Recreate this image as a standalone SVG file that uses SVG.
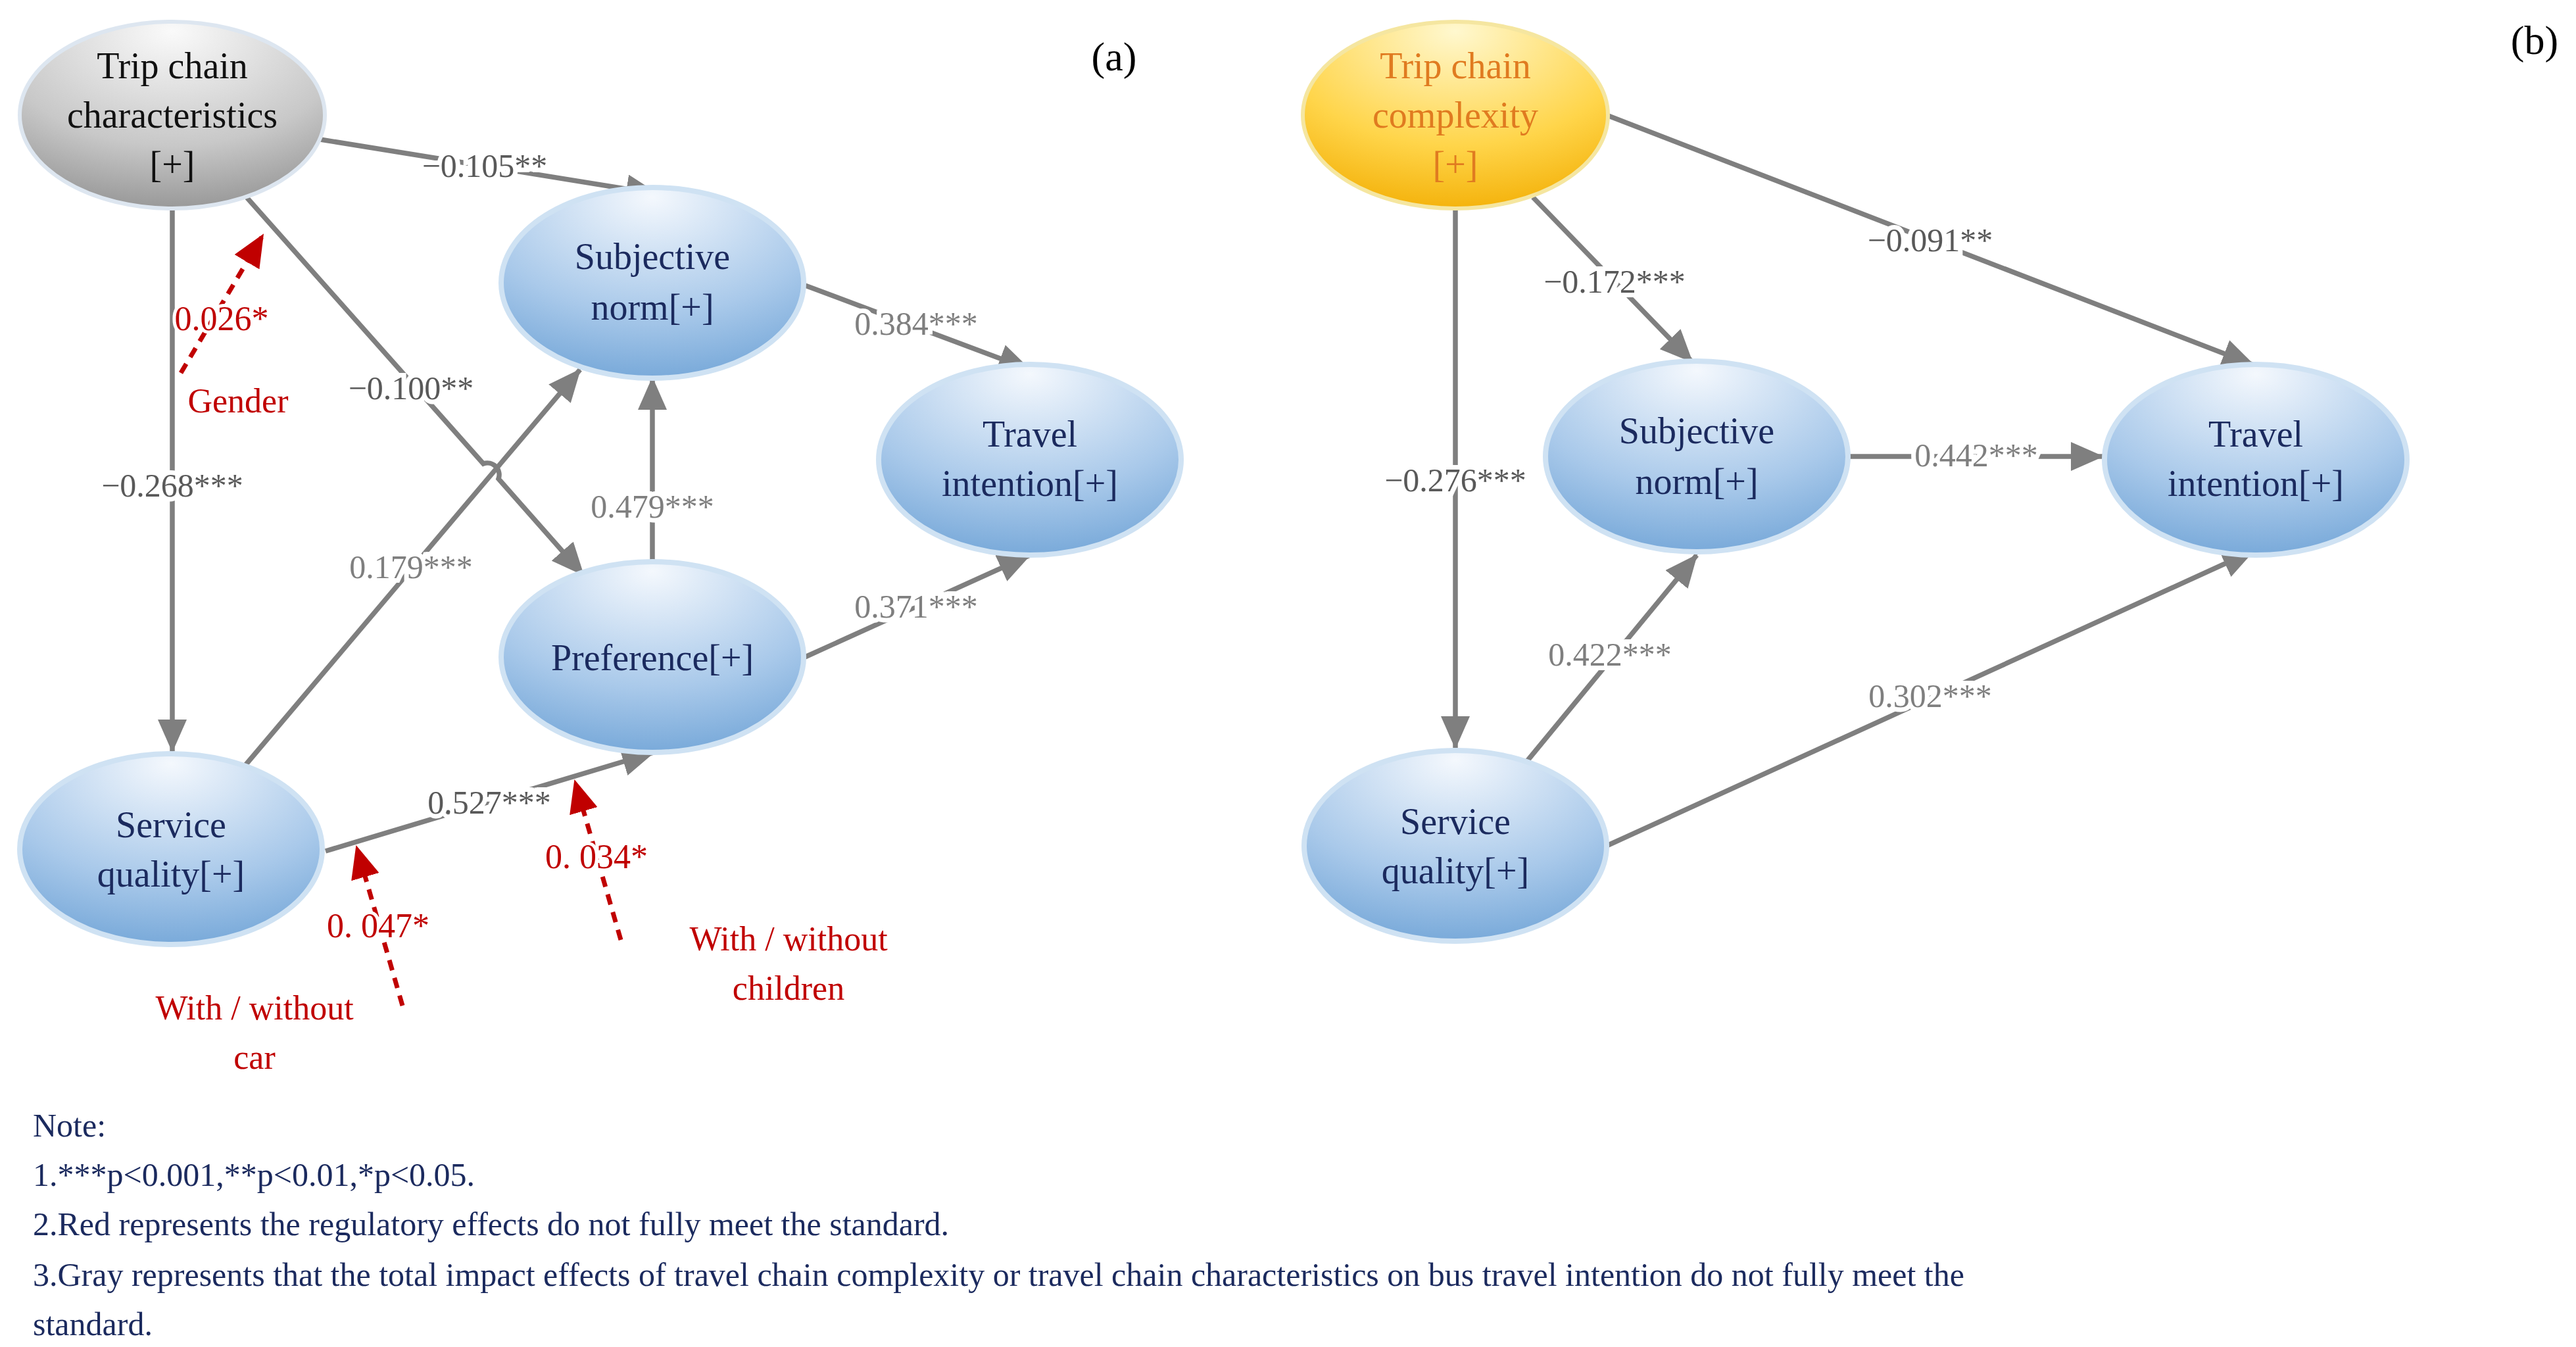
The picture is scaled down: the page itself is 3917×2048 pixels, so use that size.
<svg xmlns="http://www.w3.org/2000/svg" width="3917" height="2048" viewBox="0 0 3917 2048">
<style>
text{font-family:"Liberation Serif","Times New Roman",serif;}
.nt{font-size:56px;fill:#1b2a5e;text-anchor:middle;dominant-baseline:central;}
.lbA{font-size:50px;fill:#595959;text-anchor:middle;dominant-baseline:central;stroke:#fff;stroke-width:14px;paint-order:stroke;}
.lbB{font-size:50px;fill:#7f7f7f;text-anchor:middle;dominant-baseline:central;stroke:#fff;stroke-width:14px;paint-order:stroke;}
.lbR{font-size:52px;fill:#c00000;text-anchor:middle;dominant-baseline:central;stroke:#fff;stroke-width:10px;paint-order:stroke;}
.ln{stroke:#7f7f7f;stroke-width:7.5;fill:none;marker-end:url(#ag);}
.rd{stroke:#c00000;stroke-width:7;fill:none;stroke-dasharray:16 12;marker-end:url(#ar);}
.note{font-size:50px;fill:#1b2a5e;}
.bn{stroke:#cfe2f3;stroke-width:8;fill:url(#gb);}
</style>
<defs>
<radialGradient id="gb" cx="0.5" cy="0.12" r="0.95" fx="0.5" fy="0.05">
<stop offset="0" stop-color="#f4f8fd"/><stop offset="0.6" stop-color="#a9c9ea"/><stop offset="1" stop-color="#6fa3d6"/></radialGradient>
<radialGradient id="gg" cx="0.5" cy="0.12" r="0.95" fx="0.5" fy="0.05">
<stop offset="0" stop-color="#fafafa"/><stop offset="0.6" stop-color="#c8c8c8"/><stop offset="1" stop-color="#8f8f8f"/></radialGradient>
<radialGradient id="gy" cx="0.5" cy="0.12" r="0.95" fx="0.5" fy="0.05">
<stop offset="0" stop-color="#fff8cf"/><stop offset="0.6" stop-color="#ffd54a"/><stop offset="1" stop-color="#f2ac00"/></radialGradient>
<marker id="ag" markerUnits="userSpaceOnUse" markerWidth="50" markerHeight="44" refX="48" refY="22" orient="auto"><path d="M0,0 L50,22 L0,44 Z" fill="#7f7f7f"/></marker>
<marker id="ar" markerUnits="userSpaceOnUse" markerWidth="50" markerHeight="44" refX="48" refY="22" orient="auto"><path d="M0,0 L50,22 L0,44 Z" fill="#c00000"/></marker>
</defs>
<g id="connectors">
<line class="ln" x1="487" y1="212" x2="1000" y2="295"/>
<path class="ln" d="M375,300 L735,705 A18,18 0 0 1 758,728 L887,874"/>
<line class="ln" x1="262" y1="305" x2="262" y2="1142"/>
<line class="ln" x1="370" y1="1167" x2="882" y2="562"/>
<line class="ln" x1="992" y1="862" x2="992" y2="575"/>
<line class="ln" x1="1219" y1="432" x2="1566" y2="562"/>
<line class="ln" x1="1224" y1="999" x2="1566" y2="844"/>
<line class="ln" x1="495" y1="1294" x2="994" y2="1144"/>
<line class="rd" x1="275" y1="567" x2="400" y2="357"/>
<line class="rd" x1="612" y1="1529" x2="542" y2="1287"/>
<line class="rd" x1="944" y1="1429" x2="874" y2="1187"/>
<line class="ln" x1="2443" y1="175" x2="3427" y2="555"/>
<line class="ln" x1="2331" y1="300" x2="2573" y2="550"/>
<line class="ln" x1="2213" y1="317" x2="2213" y2="1137"/>
<line class="ln" x1="2813" y1="694" x2="3197" y2="694"/>
<line class="ln" x1="2318" y1="1162" x2="2580" y2="844"/>
<line class="ln" x1="2443" y1="1286" x2="3427" y2="837"/>
</g>
<g id="labels">
<text class="lbA" x="737" y="252">−0.105**</text>
<text class="lbA" x="625" y="590">−0.100**</text>
<text class="lbA" x="262" y="738">−0.268***</text>
<text class="lbB" x="625" y="862">0.179***</text>
<text class="lbB" x="992" y="770">0.479***</text>
<text class="lbB" x="1393" y="492">0.384***</text>
<text class="lbB" x="1393" y="922">0.371***</text>
<text class="lbA" x="744" y="1220">0.527***</text>
<text class="lbR" x="337" y="484">0.026*</text>
<text class="lbR" x="362" y="609">Gender</text>
<text class="lbR" x="575" y="1407">0. 047*</text>
<text class="lbR" x="387" y="1532">With / without</text>
<text class="lbR" x="387" y="1607">car</text>
<text class="lbR" x="907" y="1302">0. 034*</text>
<text class="lbR" x="1199" y="1427">With / without</text>
<text class="lbR" x="1199" y="1502">children</text>
<text class="lbA" x="2935" y="365">−0.091**</text>
<text class="lbA" x="2455" y="428">−0.172***</text>
<text class="lbA" x="2213" y="730">−0.276***</text>
<text class="lbB" x="3005" y="692">0.442***</text>
<text class="lbB" x="2448" y="995">0.422***</text>
<text class="lbB" x="2935" y="1058">0.302***</text>
</g>
<g id="n_tcc"><ellipse cx="262" cy="175" rx="232" ry="142" fill="url(#gg)" stroke="#dde6f0" stroke-width="6"/>
<text class="nt" x="262" y="100" style="fill:#111">Trip chain</text><text class="nt" x="262" y="175" style="fill:#111">characteristics</text><text class="nt" x="262" y="250" style="fill:#111">[+]</text></g>
<g id="n_sn_a"><ellipse class="bn" cx="992" cy="430" rx="230" ry="145"/><text class="nt" x="992" y="390">Subjective</text><text class="nt" x="992" y="467">norm[+]</text></g>
<g id="n_ti_a"><ellipse class="bn" cx="1566" cy="699" rx="230" ry="145"/><text class="nt" x="1566" y="660">Travel</text><text class="nt" x="1566" y="735">intention[+]</text></g>
<g id="n_pref"><ellipse class="bn" cx="992" cy="999" rx="230" ry="145"/><text class="nt" x="992" y="1000">Preference[+]</text></g>
<g id="n_sq_a"><ellipse class="bn" cx="260" cy="1291" rx="230" ry="145"/><text class="nt" x="260" y="1254">Service</text><text class="nt" x="260" y="1329">quality[+]</text></g>
<g id="n_tcx"><ellipse cx="2213" cy="175" rx="232" ry="142" fill="url(#gy)" stroke="#f5e6a0" stroke-width="6"/>
<text class="nt" x="2213" y="100" style="fill:#e07b20">Trip chain</text><text class="nt" x="2213" y="175" style="fill:#e07b20">complexity</text><text class="nt" x="2213" y="250" style="fill:#e07b20">[+]</text></g>
<g id="n_sn_b"><ellipse class="bn" cx="2580" cy="694" rx="230" ry="145"/><text class="nt" x="2580" y="655">Subjective</text><text class="nt" x="2580" y="732">norm[+]</text></g>
<g id="n_ti_b"><ellipse class="bn" cx="3430" cy="699" rx="230" ry="145"/><text class="nt" x="3430" y="660">Travel</text><text class="nt" x="3430" y="735">intention[+]</text></g>
<g id="n_sq_b"><ellipse class="bn" cx="2213" cy="1286" rx="230" ry="145"/><text class="nt" x="2213" y="1249">Service</text><text class="nt" x="2213" y="1324">quality[+]</text></g>
<text x="1694" y="107" font-size="62" text-anchor="middle" fill="#000">(a)</text>
<text x="3854" y="82" font-size="62" text-anchor="middle" fill="#000">(b)</text>
<g id="note">
<text class="note" x="50" y="1728">Note:</text>
<text class="note" x="50" y="1803">1.***p&lt;0.001,**p&lt;0.01,*p&lt;0.05.</text>
<text class="note" x="50" y="1878">2.Red represents the regulatory effects do not fully meet the standard.</text>
<text class="note" x="50" y="1955">3.Gray represents that the total impact effects of  travel chain complexity or travel chain characteristics on  bus travel intention  do not fully meet the</text>
<text class="note" x="50" y="2030">standard.</text>
</g>
</svg>
